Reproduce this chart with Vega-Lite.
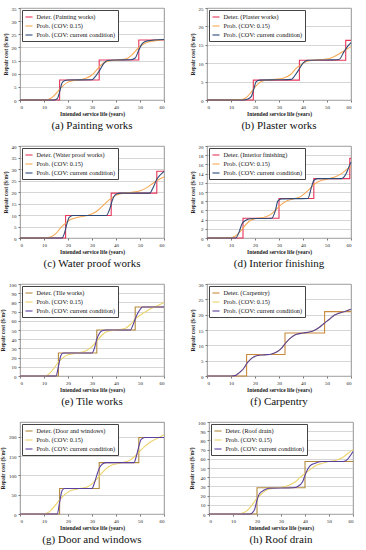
{
"$schema":"https://vega.github.io/schema/vega-lite/v6.json",
"padding":{"left":0,"top":5,"right":4,"bottom":0},
"background":"white",
"datasets":{"d":[
{"p":"a","s":"D","x":0,"y":0},{"p":"a","s":"D","x":16.5,"y":7.6},{"p":"a","s":"D","x":33,"y":15.2},{"p":"a","s":"D","x":49.5,"y":22.8},{"p":"a","s":"D","x":60,"y":22.8},
{"p":"a","s":"P","x":0,"y":0},{"p":"a","s":"P","x":10,"y":0},{"p":"a","s":"P","x":12,"y":0.3},{"p":"a","s":"P","x":14,"y":1.5},{"p":"a","s":"P","x":16,"y":3.5},{"p":"a","s":"P","x":18,"y":5.5},{"p":"a","s":"P","x":20,"y":6.8},{"p":"a","s":"P","x":22,"y":7.3},{"p":"a","s":"P","x":25,"y":7.7},{"p":"a","s":"P","x":28,"y":8.5},{"p":"a","s":"P","x":30,"y":9.5},{"p":"a","s":"P","x":32,"y":11.5},{"p":"a","s":"P","x":34,"y":13.5},{"p":"a","s":"P","x":36,"y":14.6},{"p":"a","s":"P","x":38,"y":15},{"p":"a","s":"P","x":42,"y":15.3},{"p":"a","s":"P","x":45,"y":16},{"p":"a","s":"P","x":47,"y":17.5},{"p":"a","s":"P","x":49,"y":19.5},{"p":"a","s":"P","x":51,"y":21},{"p":"a","s":"P","x":53,"y":22},{"p":"a","s":"P","x":56,"y":22.5},{"p":"a","s":"P","x":60,"y":23},
{"p":"a","s":"C","x":0,"y":0},{"p":"a","s":"C","x":14,"y":0},{"p":"a","s":"C","x":15.5,"y":0.5},{"p":"a","s":"C","x":16.5,"y":3},{"p":"a","s":"C","x":17.5,"y":6.5},{"p":"a","s":"C","x":18.5,"y":7.3},{"p":"a","s":"C","x":20,"y":7.6},{"p":"a","s":"C","x":30,"y":7.7},{"p":"a","s":"C","x":31,"y":8.5},{"p":"a","s":"C","x":33,"y":11},{"p":"a","s":"C","x":35,"y":14},{"p":"a","s":"C","x":36.5,"y":15},{"p":"a","s":"C","x":40,"y":15.2},{"p":"a","s":"C","x":46,"y":15.3},{"p":"a","s":"C","x":48,"y":16},{"p":"a","s":"C","x":49.5,"y":19},{"p":"a","s":"C","x":51,"y":21.5},{"p":"a","s":"C","x":53,"y":22.5},{"p":"a","s":"C","x":60,"y":23},

{"p":"b","s":"D","x":0,"y":0},{"p":"b","s":"D","x":19.3,"y":5.4},{"p":"b","s":"D","x":38.5,"y":10.8},{"p":"b","s":"D","x":57.8,"y":16.2},{"p":"b","s":"D","x":60,"y":16.2},
{"p":"b","s":"P","x":0,"y":0},{"p":"b","s":"P","x":14,"y":0.1},{"p":"b","s":"P","x":16,"y":0.5},{"p":"b","s":"P","x":18,"y":1.8},{"p":"b","s":"P","x":20,"y":3.5},{"p":"b","s":"P","x":22,"y":4.8},{"p":"b","s":"P","x":24,"y":5.3},{"p":"b","s":"P","x":28,"y":5.6},{"p":"b","s":"P","x":32,"y":6},{"p":"b","s":"P","x":35,"y":7},{"p":"b","s":"P","x":37,"y":8.5},{"p":"b","s":"P","x":39,"y":9.5},{"p":"b","s":"P","x":41,"y":10.3},{"p":"b","s":"P","x":44,"y":10.8},{"p":"b","s":"P","x":48,"y":11},{"p":"b","s":"P","x":52,"y":11.5},{"p":"b","s":"P","x":55,"y":12.5},{"p":"b","s":"P","x":58,"y":13.7},{"p":"b","s":"P","x":60,"y":14.5},
{"p":"b","s":"C","x":0,"y":0},{"p":"b","s":"C","x":15,"y":0},{"p":"b","s":"C","x":17,"y":0.3},{"p":"b","s":"C","x":18.5,"y":1},{"p":"b","s":"C","x":19.5,"y":3},{"p":"b","s":"C","x":20.5,"y":5},{"p":"b","s":"C","x":22,"y":5.4},{"p":"b","s":"C","x":30,"y":5.5},{"p":"b","s":"C","x":35,"y":5.6},{"p":"b","s":"C","x":37,"y":7},{"p":"b","s":"C","x":38.5,"y":8.5},{"p":"b","s":"C","x":40,"y":10},{"p":"b","s":"C","x":42,"y":10.8},{"p":"b","s":"C","x":52,"y":10.9},{"p":"b","s":"C","x":55,"y":11},{"p":"b","s":"C","x":57,"y":13},{"p":"b","s":"C","x":58.5,"y":14.5},{"p":"b","s":"C","x":60,"y":15.6},

{"p":"c","s":"D","x":0,"y":0},{"p":"c","s":"D","x":19,"y":9.8},{"p":"c","s":"D","x":38,"y":19.5},{"p":"c","s":"D","x":57,"y":29},{"p":"c","s":"D","x":60,"y":29},
{"p":"c","s":"P","x":0,"y":0},{"p":"c","s":"P","x":10,"y":0},{"p":"c","s":"P","x":13,"y":0.5},{"p":"c","s":"P","x":15,"y":2},{"p":"c","s":"P","x":17,"y":4.5},{"p":"c","s":"P","x":19,"y":6.5},{"p":"c","s":"P","x":21,"y":8},{"p":"c","s":"P","x":24,"y":9},{"p":"c","s":"P","x":28,"y":9.8},{"p":"c","s":"P","x":31,"y":11},{"p":"c","s":"P","x":33,"y":12.5},{"p":"c","s":"P","x":35,"y":14.5},{"p":"c","s":"P","x":37,"y":16.5},{"p":"c","s":"P","x":39,"y":18},{"p":"c","s":"P","x":42,"y":19.2},{"p":"c","s":"P","x":46,"y":19.8},{"p":"c","s":"P","x":50,"y":20.5},{"p":"c","s":"P","x":53,"y":22},{"p":"c","s":"P","x":55,"y":23.5},{"p":"c","s":"P","x":58,"y":25.5},{"p":"c","s":"P","x":60,"y":26.5},
{"p":"c","s":"C","x":0,"y":0},{"p":"c","s":"C","x":17.5,"y":0},{"p":"c","s":"C","x":18.5,"y":2},{"p":"c","s":"C","x":19.5,"y":6},{"p":"c","s":"C","x":20.5,"y":9},{"p":"c","s":"C","x":22,"y":9.8},{"p":"c","s":"C","x":36,"y":9.8},{"p":"c","s":"C","x":37.5,"y":13},{"p":"c","s":"C","x":38.5,"y":16.5},{"p":"c","s":"C","x":40,"y":19},{"p":"c","s":"C","x":42,"y":19.5},{"p":"c","s":"C","x":54,"y":19.5},{"p":"c","s":"C","x":55.5,"y":22},{"p":"c","s":"C","x":57,"y":25.5},{"p":"c","s":"C","x":58.5,"y":27.5},{"p":"c","s":"C","x":60,"y":29},

{"p":"d","s":"D","x":0,"y":0},{"p":"d","s":"D","x":15,"y":4.3},{"p":"d","s":"D","x":30,"y":8.6},{"p":"d","s":"D","x":44.5,"y":12.9},{"p":"d","s":"D","x":59.5,"y":17.3},{"p":"d","s":"D","x":60,"y":17.3},
{"p":"d","s":"P","x":0,"y":0},{"p":"d","s":"P","x":10,"y":0.1},{"p":"d","s":"P","x":12,"y":0.5},{"p":"d","s":"P","x":14,"y":1.5},{"p":"d","s":"P","x":16,"y":2.8},{"p":"d","s":"P","x":18,"y":3.8},{"p":"d","s":"P","x":20,"y":4.2},{"p":"d","s":"P","x":24,"y":4.5},{"p":"d","s":"P","x":27,"y":5.3},{"p":"d","s":"P","x":29,"y":6.3},{"p":"d","s":"P","x":31,"y":7.3},{"p":"d","s":"P","x":33,"y":8},{"p":"d","s":"P","x":36,"y":8.5},{"p":"d","s":"P","x":39,"y":9},{"p":"d","s":"P","x":41,"y":9.8},{"p":"d","s":"P","x":43,"y":10.8},{"p":"d","s":"P","x":45,"y":11.8},{"p":"d","s":"P","x":47,"y":12.4},{"p":"d","s":"P","x":50,"y":12.8},{"p":"d","s":"P","x":53,"y":13.2},{"p":"d","s":"P","x":56,"y":14},{"p":"d","s":"P","x":58,"y":14.8},{"p":"d","s":"P","x":60,"y":15.5},
{"p":"d","s":"C","x":0,"y":0},{"p":"d","s":"C","x":12,"y":0},{"p":"d","s":"C","x":13.5,"y":1.5},{"p":"d","s":"C","x":14.5,"y":3},{"p":"d","s":"C","x":16,"y":3.8},{"p":"d","s":"C","x":18,"y":4.2},{"p":"d","s":"C","x":27,"y":4.3},{"p":"d","s":"C","x":28.5,"y":6},{"p":"d","s":"C","x":29.5,"y":8},{"p":"d","s":"C","x":31,"y":8.5},{"p":"d","s":"C","x":42,"y":8.6},{"p":"d","s":"C","x":43.5,"y":11},{"p":"d","s":"C","x":44.5,"y":12.5},{"p":"d","s":"C","x":46,"y":12.9},{"p":"d","s":"C","x":56,"y":12.9},{"p":"d","s":"C","x":58,"y":14},{"p":"d","s":"C","x":59,"y":15.3},{"p":"d","s":"C","x":60,"y":16.5},

{"p":"e","s":"D","x":0,"y":0},{"p":"e","s":"D","x":16,"y":25},{"p":"e","s":"D","x":32,"y":50},{"p":"e","s":"D","x":48,"y":75},{"p":"e","s":"D","x":60,"y":75},
{"p":"e","s":"P","x":0,"y":0},{"p":"e","s":"P","x":10,"y":0},{"p":"e","s":"P","x":12,"y":2},{"p":"e","s":"P","x":14,"y":8},{"p":"e","s":"P","x":16,"y":15},{"p":"e","s":"P","x":18,"y":20},{"p":"e","s":"P","x":20,"y":23},{"p":"e","s":"P","x":24,"y":25},{"p":"e","s":"P","x":27,"y":27},{"p":"e","s":"P","x":30,"y":32},{"p":"e","s":"P","x":32,"y":38},{"p":"e","s":"P","x":34,"y":44},{"p":"e","s":"P","x":36,"y":48},{"p":"e","s":"P","x":40,"y":50},{"p":"e","s":"P","x":44,"y":52},{"p":"e","s":"P","x":46,"y":56},{"p":"e","s":"P","x":48,"y":62},{"p":"e","s":"P","x":50,"y":66},{"p":"e","s":"P","x":53,"y":71},{"p":"e","s":"P","x":56,"y":75},{"p":"e","s":"P","x":60,"y":80},
{"p":"e","s":"C","x":0,"y":0},{"p":"e","s":"C","x":15,"y":0},{"p":"e","s":"C","x":16,"y":10},{"p":"e","s":"C","x":17,"y":22},{"p":"e","s":"C","x":18,"y":25},{"p":"e","s":"C","x":30,"y":25},{"p":"e","s":"C","x":31,"y":30},{"p":"e","s":"C","x":32,"y":40},{"p":"e","s":"C","x":33,"y":46},{"p":"e","s":"C","x":34,"y":49},{"p":"e","s":"C","x":36,"y":50},{"p":"e","s":"C","x":46,"y":50},{"p":"e","s":"C","x":47,"y":55},{"p":"e","s":"C","x":48,"y":62},{"p":"e","s":"C","x":49,"y":68},{"p":"e","s":"C","x":50,"y":72},{"p":"e","s":"C","x":51,"y":75},{"p":"e","s":"C","x":60,"y":75},

{"p":"f","s":"D","x":0,"y":0},{"p":"f","s":"D","x":16.5,"y":7},{"p":"f","s":"D","x":32.5,"y":14},{"p":"f","s":"D","x":49,"y":21},{"p":"f","s":"D","x":60,"y":21},
{"p":"f","s":"P","x":0,"y":0},{"p":"f","s":"P","x":10,"y":0},{"p":"f","s":"P","x":12,"y":0.2},{"p":"f","s":"P","x":13,"y":0.8},{"p":"f","s":"P","x":15,"y":2.2},{"p":"f","s":"P","x":17,"y":4.5},{"p":"f","s":"P","x":19,"y":6},{"p":"f","s":"P","x":21,"y":6.7},{"p":"f","s":"P","x":24,"y":6.9},{"p":"f","s":"P","x":27,"y":7.2},{"p":"f","s":"P","x":29,"y":7.8},{"p":"f","s":"P","x":31,"y":9},{"p":"f","s":"P","x":33,"y":11},{"p":"f","s":"P","x":35,"y":12.5},{"p":"f","s":"P","x":37,"y":13.5},{"p":"f","s":"P","x":40,"y":14},{"p":"f","s":"P","x":43,"y":14.4},{"p":"f","s":"P","x":45,"y":15},{"p":"f","s":"P","x":47,"y":16},{"p":"f","s":"P","x":49,"y":17.3},{"p":"f","s":"P","x":51,"y":18.5},{"p":"f","s":"P","x":53,"y":19.8},{"p":"f","s":"P","x":55,"y":20.5},{"p":"f","s":"P","x":58,"y":21.2},{"p":"f","s":"P","x":60,"y":21.8},
{"p":"f","s":"C","x":0,"y":0},{"p":"f","s":"C","x":10,"y":0},{"p":"f","s":"C","x":12,"y":0.2},{"p":"f","s":"C","x":13,"y":0.8},{"p":"f","s":"C","x":15,"y":2.2},{"p":"f","s":"C","x":17,"y":4.5},{"p":"f","s":"C","x":19,"y":6},{"p":"f","s":"C","x":21,"y":6.7},{"p":"f","s":"C","x":24,"y":6.9},{"p":"f","s":"C","x":27,"y":7.2},{"p":"f","s":"C","x":29,"y":7.8},{"p":"f","s":"C","x":31,"y":9},{"p":"f","s":"C","x":33,"y":11},{"p":"f","s":"C","x":35,"y":12.5},{"p":"f","s":"C","x":37,"y":13.5},{"p":"f","s":"C","x":40,"y":14},{"p":"f","s":"C","x":43,"y":14.4},{"p":"f","s":"C","x":45,"y":15},{"p":"f","s":"C","x":47,"y":16},{"p":"f","s":"C","x":49,"y":17.3},{"p":"f","s":"C","x":51,"y":18.5},{"p":"f","s":"C","x":53,"y":19.8},{"p":"f","s":"C","x":55,"y":20.5},{"p":"f","s":"C","x":58,"y":21.2},{"p":"f","s":"C","x":60,"y":21.8},

{"p":"g","s":"D","x":0,"y":0},{"p":"g","s":"D","x":16.5,"y":66},{"p":"g","s":"D","x":33,"y":133},{"p":"g","s":"D","x":49.5,"y":198},{"p":"g","s":"D","x":60,"y":198},
{"p":"g","s":"P","x":0,"y":0},{"p":"g","s":"P","x":9,"y":0},{"p":"g","s":"P","x":11,"y":2},{"p":"g","s":"P","x":13,"y":10},{"p":"g","s":"P","x":15,"y":25},{"p":"g","s":"P","x":17,"y":40},{"p":"g","s":"P","x":19,"y":52},{"p":"g","s":"P","x":21,"y":60},{"p":"g","s":"P","x":24,"y":65},{"p":"g","s":"P","x":28,"y":70},{"p":"g","s":"P","x":30,"y":78},{"p":"g","s":"P","x":32,"y":90},{"p":"g","s":"P","x":34,"y":105},{"p":"g","s":"P","x":36,"y":118},{"p":"g","s":"P","x":38,"y":126},{"p":"g","s":"P","x":42,"y":132},{"p":"g","s":"P","x":46,"y":140},{"p":"g","s":"P","x":48,"y":150},{"p":"g","s":"P","x":50,"y":163},{"p":"g","s":"P","x":52,"y":175},{"p":"g","s":"P","x":54,"y":185},{"p":"g","s":"P","x":57,"y":195},{"p":"g","s":"P","x":60,"y":205},
{"p":"g","s":"C","x":0,"y":0},{"p":"g","s":"C","x":15.5,"y":0},{"p":"g","s":"C","x":16.5,"y":30},{"p":"g","s":"C","x":17.5,"y":60},{"p":"g","s":"C","x":18.5,"y":66},{"p":"g","s":"C","x":30,"y":66},{"p":"g","s":"C","x":31,"y":80},{"p":"g","s":"C","x":32,"y":100},{"p":"g","s":"C","x":33,"y":118},{"p":"g","s":"C","x":34.5,"y":130},{"p":"g","s":"C","x":36,"y":133},{"p":"g","s":"C","x":47.5,"y":133},{"p":"g","s":"C","x":48.5,"y":150},{"p":"g","s":"C","x":49.5,"y":175},{"p":"g","s":"C","x":50.5,"y":193},{"p":"g","s":"C","x":52,"y":198},{"p":"g","s":"C","x":60,"y":198},

{"p":"h","s":"D","x":0,"y":0},{"p":"h","s":"D","x":20,"y":28.5},{"p":"h","s":"D","x":40,"y":57},{"p":"h","s":"D","x":60,"y":57},
{"p":"h","s":"P","x":0,"y":0},{"p":"h","s":"P","x":12,"y":0},{"p":"h","s":"P","x":14,"y":1},{"p":"h","s":"P","x":16,"y":4},{"p":"h","s":"P","x":18,"y":10},{"p":"h","s":"P","x":20,"y":17},{"p":"h","s":"P","x":22,"y":22},{"p":"h","s":"P","x":24,"y":26},{"p":"h","s":"P","x":27,"y":28},{"p":"h","s":"P","x":30,"y":29},{"p":"h","s":"P","x":33,"y":31},{"p":"h","s":"P","x":36,"y":35},{"p":"h","s":"P","x":38,"y":40},{"p":"h","s":"P","x":40,"y":44},{"p":"h","s":"P","x":42,"y":48},{"p":"h","s":"P","x":44,"y":52},{"p":"h","s":"P","x":47,"y":55},{"p":"h","s":"P","x":50,"y":57},{"p":"h","s":"P","x":53,"y":58.5},{"p":"h","s":"P","x":56,"y":62},{"p":"h","s":"P","x":58,"y":66},{"p":"h","s":"P","x":60,"y":70},
{"p":"h","s":"C","x":0,"y":0},{"p":"h","s":"C","x":17,"y":0},{"p":"h","s":"C","x":19,"y":5},{"p":"h","s":"C","x":20,"y":15},{"p":"h","s":"C","x":21,"y":22},{"p":"h","s":"C","x":23,"y":26},{"p":"h","s":"C","x":25,"y":28},{"p":"h","s":"C","x":35,"y":28.5},{"p":"h","s":"C","x":37,"y":30},{"p":"h","s":"C","x":39,"y":35},{"p":"h","s":"C","x":40,"y":42},{"p":"h","s":"C","x":41,"y":48},{"p":"h","s":"C","x":42,"y":52},{"p":"h","s":"C","x":44,"y":55},{"p":"h","s":"C","x":47,"y":57},{"p":"h","s":"C","x":55,"y":57},{"p":"h","s":"C","x":57,"y":58},{"p":"h","s":"C","x":58.5,"y":62},{"p":"h","s":"C","x":60,"y":68}
]},
"data":{"name":"d"},
"spacing":12,
"vconcat":[
{"resolve":{"scale":{"color":"independent"},"legend":{"color":"independent"}},"hconcat":[
{"width":144,"height":92,"title":{"text":"(a) Painting works"},"transform":[{"filter":"datum.p=='a'"}],
"encoding":{"x":{"field":"x","type":"quantitative","scale":{"domain":[0,60]},"axis":{"values":[0,10,20,30,40,50,60],"title":"Intended service life (years)"}},
"y":{"field":"y","type":"quantitative","scale":{"domain":[0,35]},"axis":{"values":[0,5,10,15,20,25,30,35],"title":"Repair cost ($/m²)"}},
"color":{"field":"s","type":"nominal","scale":{"domain":["D","P","C"],"range":["#e8365a","#f6a955","#2e4a78"]},"legend":{"labelExpr":"datum.label=='D'?'Deter. (Painting works)':datum.label=='P'?'Prob. (COV: 0.15)':'Prob. (COV: current condition)'"}}},
"layer":[{"transform":[{"filter":"datum.s=='D'"}],"mark":{"type":"line","interpolate":"step-after"}},{"transform":[{"filter":"datum.s!='D'"}],"mark":{"type":"line","interpolate":"monotone"}}]},
{"width":144,"height":92,"title":{"text":"(b) Plaster works"},"transform":[{"filter":"datum.p=='b'"}],
"encoding":{"x":{"field":"x","type":"quantitative","scale":{"domain":[0,60]},"axis":{"values":[0,10,20,30,40,50,60],"title":"Intended service life (years)"}},
"y":{"field":"y","type":"quantitative","scale":{"domain":[0,25]},"axis":{"values":[0,5,10,15,20,25],"title":"Repair cost ($/m²)"}},
"color":{"field":"s","type":"nominal","scale":{"domain":["D","P","C"],"range":["#e8365a","#f6a955","#2e4a78"]},"legend":{"labelExpr":"datum.label=='D'?'Deter. (Plaster works)':datum.label=='P'?'Prob. (COV: 0.15)':'Prob. (COV: current condition)'"}}},
"layer":[{"transform":[{"filter":"datum.s=='D'"}],"mark":{"type":"line","interpolate":"step-after"}},{"transform":[{"filter":"datum.s!='D'"}],"mark":{"type":"line","interpolate":"monotone"}}]}
]},
{"resolve":{"scale":{"color":"independent"},"legend":{"color":"independent"}},"hconcat":[
{"width":144,"height":92,"title":{"text":"(c) Water proof works"},"transform":[{"filter":"datum.p=='c'"}],
"encoding":{"x":{"field":"x","type":"quantitative","scale":{"domain":[0,60]},"axis":{"values":[0,10,20,30,40,50,60],"title":"Intended service life (years)"}},
"y":{"field":"y","type":"quantitative","scale":{"domain":[0,40]},"axis":{"values":[0,5,10,15,20,25,30,35,40],"title":"Repair cost ($/m²)"}},
"color":{"field":"s","type":"nominal","scale":{"domain":["D","P","C"],"range":["#e8365a","#f6a955","#2e4a78"]},"legend":{"labelExpr":"datum.label=='D'?'Deter. (Water proof works)':datum.label=='P'?'Prob. (COV: 0.15)':'Prob. (COV: current condition)'"}}},
"layer":[{"transform":[{"filter":"datum.s=='D'"}],"mark":{"type":"line","interpolate":"step-after"}},{"transform":[{"filter":"datum.s!='D'"}],"mark":{"type":"line","interpolate":"monotone"}}]},
{"width":144,"height":92,"title":{"text":"(d) Interior finishing"},"transform":[{"filter":"datum.p=='d'"}],
"encoding":{"x":{"field":"x","type":"quantitative","scale":{"domain":[0,60]},"axis":{"values":[0,10,20,30,40,50,60],"title":"Intended service life (years)"}},
"y":{"field":"y","type":"quantitative","scale":{"domain":[0,20]},"axis":{"values":[0,2,4,6,8,10,12,14,16,18,20],"title":"Repair cost ($/m²)"}},
"color":{"field":"s","type":"nominal","scale":{"domain":["D","P","C"],"range":["#e8365a","#f6a955","#2e4a78"]},"legend":{"labelExpr":"datum.label=='D'?'Deter. (Interior finishing)':datum.label=='P'?'Prob. (COV: 0.15)':'Prob. (COV: current condition)'"}}},
"layer":[{"transform":[{"filter":"datum.s=='D'"}],"mark":{"type":"line","interpolate":"step-after"}},{"transform":[{"filter":"datum.s!='D'"}],"mark":{"type":"line","interpolate":"monotone"}}]}
]},
{"resolve":{"scale":{"color":"independent"},"legend":{"color":"independent"}},"hconcat":[
{"width":144,"height":92,"title":{"text":"(e) Tile works"},"transform":[{"filter":"datum.p=='e'"}],
"encoding":{"x":{"field":"x","type":"quantitative","scale":{"domain":[0,60]},"axis":{"values":[0,10,20,30,40,50,60],"title":"Intended service life (years)"}},
"y":{"field":"y","type":"quantitative","scale":{"domain":[0,100]},"axis":{"values":[0,10,20,30,40,50,60,70,80,90,100],"title":"Repair cost ($/m²)"}},
"color":{"field":"s","type":"nominal","scale":{"domain":["D","P","C"],"range":["#b38a3c","#ecd36a","#5a3f9e"]},"legend":{"labelExpr":"datum.label=='D'?'Deter. (Tile works)':datum.label=='P'?'Prob. (COV: 0.15)':'Prob. (COV: current condition)'"}}},
"layer":[{"transform":[{"filter":"datum.s=='D'"}],"mark":{"type":"line","interpolate":"step-after"}},{"transform":[{"filter":"datum.s!='D'"}],"mark":{"type":"line","interpolate":"monotone"}}]},
{"width":144,"height":92,"title":{"text":"(f) Carpentry"},"transform":[{"filter":"datum.p=='f'"}],
"encoding":{"x":{"field":"x","type":"quantitative","scale":{"domain":[0,60]},"axis":{"values":[0,10,20,30,40,50,60],"title":"Intended service life (years)"}},
"y":{"field":"y","type":"quantitative","scale":{"domain":[0,30]},"axis":{"values":[0,5,10,15,20,25,30],"title":"Repair cost ($/m²)"}},
"color":{"field":"s","type":"nominal","scale":{"domain":["D","P","C"],"range":["#c98a3a","#ecd36a","#5a3f9e"]},"legend":{"labelExpr":"datum.label=='D'?'Deter. (Carpentry)':datum.label=='P'?'Prob. (COV: 0.15)':'Prob. (COV: current condition)'"}}},
"layer":[{"transform":[{"filter":"datum.s=='D'"}],"mark":{"type":"line","interpolate":"step-after"}},{"transform":[{"filter":"datum.s!='D'"}],"mark":{"type":"line","interpolate":"monotone"}}]}
]},
{"resolve":{"scale":{"color":"independent"},"legend":{"color":"independent"}},"hconcat":[
{"width":144,"height":92,"title":{"text":"(g) Door and windows"},"transform":[{"filter":"datum.p=='g'"}],
"encoding":{"x":{"field":"x","type":"quantitative","scale":{"domain":[0,60]},"axis":{"values":[0,10,20,30,40,50,60],"title":"Intended service life (years)"}},
"y":{"field":"y","type":"quantitative","scale":{"domain":[0,238]},"axis":{"values":[0,50,100,150,200],"title":"Repair cost ($/m²)"}},
"color":{"field":"s","type":"nominal","scale":{"domain":["D","P","C"],"range":["#b38a3c","#ecd36a","#5a3f9e"]},"legend":{"labelExpr":"datum.label=='D'?'Deter. (Door and windows)':datum.label=='P'?'Prob. (COV: 0.15)':'Prob. (COV: current condition)'"}}},
"layer":[{"transform":[{"filter":"datum.s=='D'"}],"mark":{"type":"line","interpolate":"step-after"}},{"transform":[{"filter":"datum.s!='D'"}],"mark":{"type":"line","interpolate":"monotone"}}]},
{"width":144,"height":92,"title":{"text":"(h) Roof drain"},"transform":[{"filter":"datum.p=='h'"}],
"encoding":{"x":{"field":"x","type":"quantitative","scale":{"domain":[0,60]},"axis":{"values":[0,10,20,30,40,50,60],"title":"Intended service life (years)"}},
"y":{"field":"y","type":"quantitative","scale":{"domain":[0,100]},"axis":{"values":[0,10,20,30,40,50,60,70,80,90,100],"title":"Repair cost ($/m²)"}},
"color":{"field":"s","type":"nominal","scale":{"domain":["D","P","C"],"range":["#b38a3c","#ecd36a","#5a3f9e"]},"legend":{"labelExpr":"datum.label=='D'?'Deter. (Roof drain)':datum.label=='P'?'Prob. (COV: 0.15)':'Prob. (COV: current condition)'"}}},
"layer":[{"transform":[{"filter":"datum.s=='D'"}],"mark":{"type":"line","interpolate":"step-after"}},{"transform":[{"filter":"datum.s!='D'"}],"mark":{"type":"line","interpolate":"monotone"}}]}
]}
],
"resolve":{"scale":{"color":"independent"},"legend":{"color":"independent"}},
"config":{
"concat":{"spacing":22},
"view":{"stroke":"#777","strokeWidth":0.8},
"line":{"strokeWidth":1.1},
"title":{"orient":"bottom","anchor":"middle","font":"Liberation Serif","fontSize":11,"fontWeight":"normal","color":"#111","offset":3},
"axis":{"labelFont":"Liberation Serif","labelFontSize":5,"labelColor":"#222","titleFont":"Liberation Serif","titleFontSize":5.5,"titleFontWeight":"bold","titleColor":"#222","domain":false,"tickSize":2,"tickColor":"#777","labelPadding":2,"titlePadding":2},
"axisX":{"grid":false},
"axisY":{"grid":true,"gridColor":"#bbb","gridWidth":0.6,"titlePadding":3},
"legend":{"orient":"top-left","offset":2,"title":null,"symbolType":"stroke","symbolSize":50,"symbolStrokeWidth":1.4,"labelFont":"Liberation Serif","labelFontSize":6.3,"labelColor":"#111","rowPadding":1,"padding":2.5,"strokeColor":"#444","fillColor":"white","labelLimit":200,"symbolOffset":0,"labelOffset":3}
}
}
